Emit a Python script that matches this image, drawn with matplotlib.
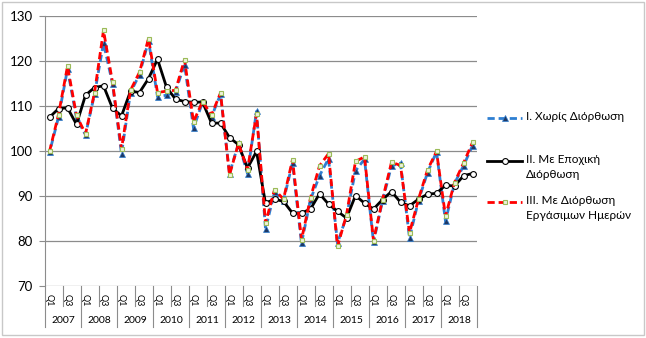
import matplotlib
matplotlib.use("Agg")
import matplotlib.pyplot as plt
import numpy as np
from matplotlib.lines import Line2D
from matplotlib.patches import Rectangle

plt.rcParams['font.family'] = ['Lato', 'DejaVu Sans']

years = [str(y) for y in range(2007, 2019)]
quarters = ["Q1", "Q2", "Q3", "Q4"]

# I. unadjusted
raw = [99.7, 107.5, 118.2, 107.3, 103.6, 112.6, 124.0, 115.0, 99.4, 113.0, 117.0, 124.5,
       112.1, 112.4, 113.2, 119.2, 105.1, 110.8, 107.6, 112.6, 95.0, 101.7, 95.0, 108.8,
       82.7, 90.8, 89.0, 97.3, 79.5, 89.2, 94.5, 98.3, 79.5, 85.5, 95.6, 98.2,
       79.7, 88.9, 96.7, 97.3, 80.7, 89.0, 95.2, 99.8, 84.4, 92.8, 96.7, 101.2]
# II. seasonally adjusted
seas = [107.5, 109.4, 109.6, 105.9, 112.4, 114.1, 114.5, 109.5, 107.8, 113.3, 113.0, 116.1,
        120.4, 114.2, 111.5, 111.0, 110.8, 110.9, 106.2, 106.2, 103.0, 101.4, 96.2, 99.9,
        88.4, 89.3, 88.8, 86.2, 86.2, 87.1, 90.5, 88.2, 86.6, 85.1, 90.1, 88.4,
        87.1, 89.2, 91.0, 88.6, 87.8, 89.3, 90.4, 90.6, 92.4, 92.2, 94.5, 95.0]
# III. working-day adjusted
wday = [99.9, 108.1, 118.8, 107.9, 103.8, 112.9, 126.8, 115.3, 100.4, 113.5, 117.5, 125.0,
        113.0, 113.3, 113.5, 120.3, 106.5, 111.0, 108.0, 112.9, 94.7, 101.7, 95.8, 108.3,
        84.0, 91.4, 89.3, 98.1, 80.3, 89.6, 96.7, 99.4, 78.8, 85.8, 97.7, 98.7,
        80.1, 89.2, 97.5, 96.8, 81.8, 89.3, 95.8, 99.9, 85.5, 93.0, 97.3, 101.9]

labels = ["I. Χωρίς Διόρθωση", "II. Με Εποχική\nΔιόρθωση", "III. Με Διόρθωση\nΕργάσιμων Ημερών"]

W, H = 646, 338
fig = plt.figure(figsize=(W / 100, H / 100), dpi=100)
ax = fig.add_axes([45 / W, (H - 286) / H, 432 / W, 270 / H])

x = np.arange(len(raw))
grey = "#8c8c8c"

blue_style = dict(color="#2E7FD2", lw=2.0, linestyle=(1.8, (2.6, 1.4)),
                  marker="^", ms=4.0, mfc="#1F3864", mec="#2E7FD2", mew=0.5, zorder=3)
black_style = dict(color="black", lw=2.0, marker="o", ms=4.2, mfc="white",
                   mec="black", mew=0.8, zorder=4)
red_style = dict(color="#FF0000", lw=2.0, linestyle=(0, (2.6, 1.4)),
                 marker="s", ms=3.0, mfc="#EEF3DC", mec="#9BBB59", mew=0.8, zorder=5)

ax.plot(x, raw, **blue_style)
ax.plot(x, seas, **black_style)
ax.plot(x, wday, **red_style)

ax.set_xlim(-0.5, len(raw) - 0.5)
ax.set_ylim(70, 130)
ax.set_yticks(range(70, 131, 10))
ax.yaxis.grid(True, color=grey, lw=0.9)
ax.set_axisbelow(True)
ax.tick_params(axis="y", length=4, color=grey, labelsize=9.5, pad=5)
ax.set_xticks([])
for side in ["top", "right", "bottom"]:
    ax.spines[side].set_visible(False)
ax.spines["left"].set_color(grey)

# two-level category axis
tr = ax.get_xaxis_transform()
for i in range(len(raw)):
    if i % 2 == 0:
        ax.text(i, -0.052, quarters[i % 4], transform=tr, rotation=270,
                ha="center", va="center", fontsize=6.5, clip_on=False)
for k in range(0, len(raw) + 1, 2):
    bottom = -0.152 if k % 4 == 0 else -0.074
    ax.plot([k - 0.5, k - 0.5], [0, bottom], transform=tr, color=grey,
            lw=0.8, clip_on=False)
for j, yr in enumerate(years):
    ax.text(4 * j + 1.5, -0.127, yr, transform=tr, ha="center", va="center",
            fontsize=7.5, clip_on=False)

# legend drawn by hand
def fx(px):
    return px / W

def fy(py):
    return 1 - py / H

entries = [(118, blue_style, labels[0]), (161, black_style, labels[1]), (202, red_style, labels[2])]
for ypx, st, lab in entries:
    st = dict(st)
    st.pop("zorder")
    if isinstance(st.get("linestyle"), tuple):
        st["linestyle"] = (0, st["linestyle"][1])
    fig.add_artist(Line2D([fx(487), fx(522)], [fy(ypx), fy(ypx)], markevery=[], **st))
    mk = {k: v for k, v in st.items() if k in ("marker", "ms", "mfc", "mec", "mew")}
    fig.add_artist(Line2D([fx(504.5)], [fy(ypx)], linestyle="none", **mk))
    fig.text(fx(526), fy(ypx - 7), lab, ha="left", va="top", fontsize=8.5,
             linespacing=1.45, transform=fig.transFigure)

fig.add_artist(Rectangle((fx(2), fy(335)), fx(642), 333 / H, transform=fig.transFigure,
                         fill=False, edgecolor="#c8c8c8", lw=1.0))

fig.savefig("out.png", dpi=100)
